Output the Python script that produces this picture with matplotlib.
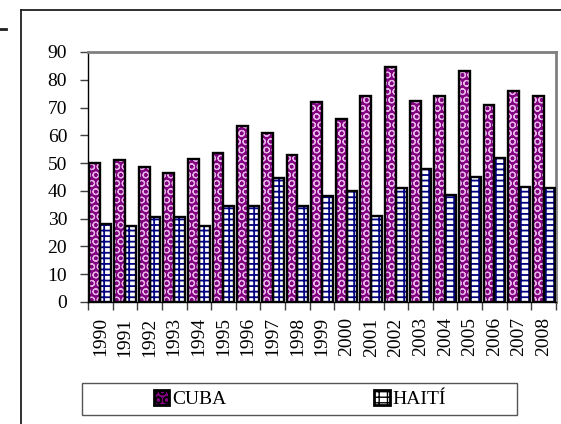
import matplotlib
matplotlib.use("Agg")
import matplotlib.pyplot as plt
import numpy as np
from matplotlib.patches import Patch, Rectangle
from matplotlib.lines import Line2D

years = ["1990", "1991", "1992", "1993", "1994", "1995", "1996", "1997", "1998", "1999",
         "2000", "2001", "2002", "2003", "2004", "2005", "2006", "2007", "2008"]
cuba = [50, 51, 48.5, 46.5, 51.5, 53.5, 63.5, 61, 53, 72,
        66, 74, 84.5, 72.5, 74, 83, 71, 76, 74]
haiti = [28, 27.5, 30.5, 30.5, 27.5, 34.5, 34.5, 44.5, 34.5, 38,
         40, 31, 41, 48, 38.5, 45, 52, 41.5, 41]
series_names = ["CUBA", "HAITÍ"]
yticks = list(range(0, 91, 10))

plt.rcParams['font.family'] = ['Liberation Serif', 'DejaVu Serif']

W, H = 561, 424
fig = plt.figure(figsize=(W / 100, H / 100), dpi=100)
ax = fig.add_axes([88 / W, 1 - 302 / H, (556 - 88) / W, (302 - 52) / H])

x = np.arange(len(years))
bw = 0.44
purple = "#800080"
cuba_hatch = "#e8b4e8"
navy = "#000080"
cuba_pat = "OO"
haiti_pat = "---||"

# fills with hatch
with plt.rc_context({'hatch.linewidth': 0.8}):
    ax.bar(x - bw / 2, cuba, bw, facecolor=purple, edgecolor=cuba_hatch, hatch=cuba_pat, linewidth=0, zorder=2)
    cuba_handle = Patch(facecolor=purple, edgecolor=cuba_hatch, hatch=cuba_pat, linewidth=0)
with plt.rc_context({'hatch.linewidth': 1.3}):
    ax.bar(x + bw / 2, haiti, bw, facecolor="white", edgecolor=navy, hatch=haiti_pat, linewidth=0, zorder=2)
    haiti_handle = Patch(facecolor="white", edgecolor=navy, hatch=haiti_pat, linewidth=0)
# outlines
ax.bar(x - bw / 2, cuba, bw, fill=False, edgecolor="black", linewidth=1.7, zorder=3)
ax.bar(x + bw / 2, haiti, bw, fill=False, edgecolor="black", linewidth=1.7, zorder=3)

ax.set_xlim(-0.5, len(years) - 0.5)
ax.set_ylim(0, 90)
ax.set_yticks(yticks)
ax.set_yticklabels([str(v) for v in yticks], fontsize=14)
ax.set_xticks(x)
ax.set_xticklabels(years, rotation=90, fontsize=14)
ax.set_xticks(np.arange(-0.5, len(years)), minor=True)
ax.tick_params(axis='x', which='major', length=0, pad=11)
ax.tick_params(axis='x', which='minor', length=6, direction='out', width=1, color='#404040')
ax.tick_params(axis='y', which='major', length=6, direction='out', pad=9, width=1, color='#404040')

for s in ['left', 'bottom']:
    ax.spines[s].set_color('black')
    ax.spines[s].set_linewidth(1.0)
for s in ['top', 'right']:
    ax.spines[s].set_color('#808080')
    ax.spines[s].set_linewidth(2.0)

# legend box
fig.add_artist(Rectangle((82 / W, 1 - 415 / H), (517 - 82) / W, (415 - 383) / H,
                         transform=fig.transFigure, fill=False, edgecolor='#555555', linewidth=1.0))
leg = fig.legend([cuba_handle, haiti_handle], series_names, loc='center',
                 bbox_to_anchor=(300 / W, 1 - 399 / H),
                 ncol=2, frameon=False, fontsize=14, handlelength=0.8, handleheight=0.8,
                 handletextpad=0.15, columnspacing=7.6)
for p in leg.get_patches():
    p.set_edgecolor('black')
    p.set_linewidth(2.0)

# outer frame
fig.add_artist(Line2D([21 / W, 1], [1 - 10 / H, 1 - 10 / H], transform=fig.transFigure, color='#202020', lw=1.3))
fig.add_artist(Line2D([21 / W, 21 / W], [0, 1 - 10 / H], transform=fig.transFigure, color='#202020', lw=1.3))
fig.add_artist(Line2D([0, 6 / W], [1 - 29 / H, 1 - 29 / H], transform=fig.transFigure, color='#202020', lw=2))

fig.savefig("out.png", dpi=100)
